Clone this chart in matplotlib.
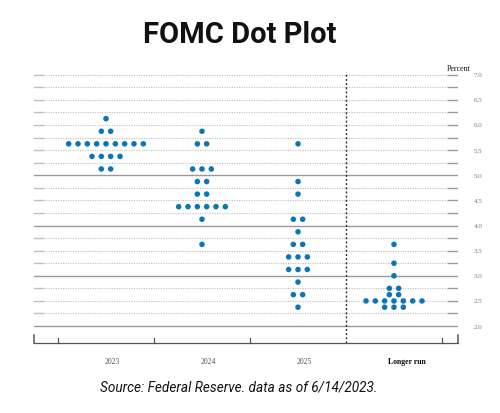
import matplotlib
matplotlib.use("Agg")
import matplotlib.pyplot as plt
import numpy as np

categories = ["2023", "2024", "2025", "Longer run"]

rates_2023 = [6.125, 5.875, 5.625, 5.375, 5.125]
counts_2023 = [1, 2, 9, 4, 2]

rates_2024 = [5.875, 5.625, 5.125, 4.875, 4.625, 4.375, 4.125, 3.625]
counts_2024 = [1, 2, 3, 2, 2, 6, 1, 1]

rates_2025 = [5.625, 4.875, 4.625, 4.125, 3.875, 3.625, 3.375, 3.125, 2.875, 2.625, 2.375]
counts_2025 = [1, 1, 1, 2, 1, 2, 3, 3, 1, 2, 1]

rates_lr = [3.625, 3.25, 3.0, 2.75, 2.625, 2.5, 2.375]
counts_lr = [1, 1, 1, 2, 2, 7, 3]

y_ticks = [7.0, 6.5, 6.0, 5.5, 5.0, 4.5, 4.0, 3.5, 3.0, 2.5, 2.0]

series = [(rates_2023, counts_2023), (rates_2024, counts_2024),
          (rates_2025, counts_2025), (rates_lr, counts_lr)]

W, H = 500, 414
fig = plt.figure(figsize=(5, 4.14), dpi=100)
ax = fig.add_axes([34 / W, (H - 344) / H, 424 / W, (344 - 73.2) / H])
ax.set_xlim(0.25, 4.6667)
ax.set_ylim(1.663, 7.05)
ax.axis("off")

dot_color = "#0b76b6"
grid_light = "#bdbdbd"
grid_dark = "#999999"

# horizontal grid lines every 0.25
x0, x1 = 0.25, 4.6667
xl, xr = 0.345, 4.5625
for v in np.arange(2.0, 7.001, 0.25):
    if abs(v - round(v)) < 1e-6 and 2 <= v <= 5:
        ax.plot([x0, x1], [v, v], color=grid_dark, lw=1.0, zorder=1)
    else:
        ax.plot([x0, xl], [v, v], color=grid_light, lw=1.0, zorder=1)
        ax.plot([xr, x1], [v, v], color=grid_dark, lw=1.0, zorder=1)
        ax.plot([xl, xr], [v, v], color=grid_light, lw=0.8,
                linestyle=(0, (1, 1.2)), zorder=1)

# dots
spacing = 0.0972
for i, (rates, counts) in enumerate(series):
    cx = i + 1
    xs, ys = [], []
    for r, c in zip(rates, counts):
        for k in range(c):
            xs.append(cx + (k - (c - 1) / 2) * spacing)
            ys.append(r)
    ax.scatter(xs, ys, s=16, color=dot_color, edgecolors="none", zorder=3)

# dashed separator
ax.plot([3.5, 3.5], [1.663, 7.05], color="#333333", lw=1.0,
        linestyle=(0, (1.5, 1.5)), zorder=2, clip_on=False)

# bottom axis
ax.plot([x0, x1], [1.663, 1.663], color="#555555", lw=0.9, clip_on=False)
for xt in [x0, x1]:
    ax.plot([xt, xt], [1.663, 1.663 + 0.16], color="#555555", lw=1.1, clip_on=False)
for xt in [0.5, 1.5, 2.5, 4.5]:
    ax.plot([xt, xt], [1.663, 1.663 + 0.1], color="#555555", lw=0.9, clip_on=False)

label_x = [1.0625, 2.0625, 3.0625, 4.135]
for lx, lab in zip(label_x, categories):
    ax.text(lx, 1.306, lab, ha="center", va="center", fontsize=5.6,
            family="Liberation Serif", color="#555555" if lab != "Longer run" else "#111111",
            fontweight="bold" if lab == "Longer run" else "normal", clip_on=False)

for t in y_ticks:
    ax.text(4.875, t, f"{t:.1f}", ha="center", va="center", fontsize=5,
            family="Liberation Serif", color="#777777", clip_on=False)
ax.text(4.67, 7.13, "Percent", ha="center", va="center", fontsize=5.8,
        family="Liberation Serif", color="#111111", clip_on=False)

fig.text(240 / W, 1 - 35 / H, "FOMC Dot Plot", ha="center", va="center",
         fontsize=21, fontweight="bold", family="Roboto", color="#111111")
fig.text(239 / W, 1 - 388 / H, "Source: Federal Reserve. data as of 6/14/2023.",
         ha="center", va="center", fontsize=9.8, style="italic", family="Roboto",
         color="#111111")

fig.savefig("out.png", dpi=100)
